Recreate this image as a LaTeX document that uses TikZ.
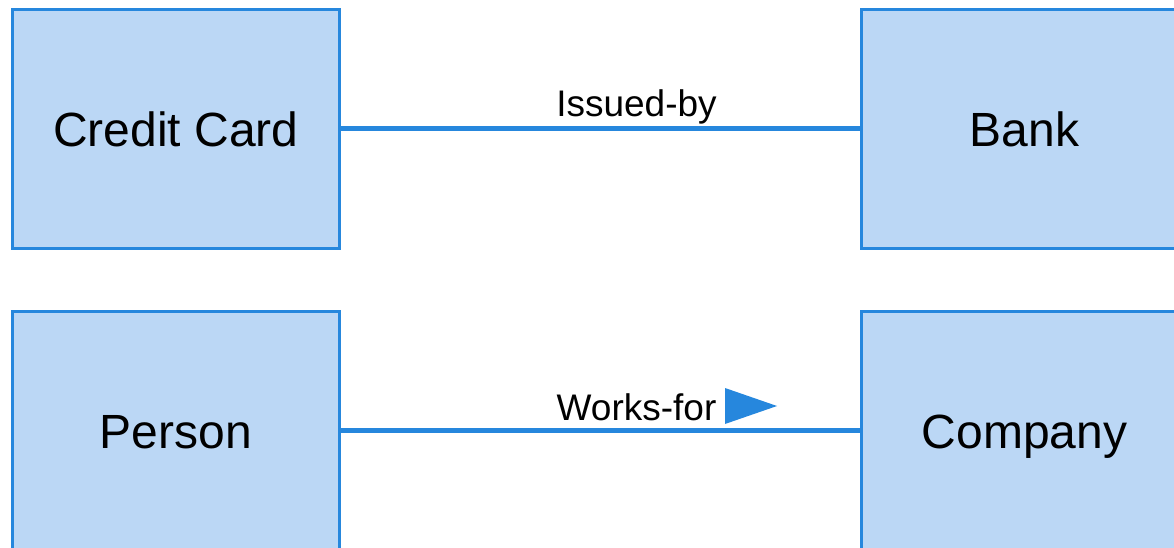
\documentclass[tikz,border=0pt]{standalone}
\usepackage{fontspec}
\setmainfont{Liberation Sans}
\definecolor{boxfill}{RGB}{187,215,245}
\definecolor{boxline}{RGB}{38,135,221}
\begin{document}
\begin{tikzpicture}[x=1pt,y=-1pt,
  entity/.style={draw=boxline,fill=boxfill,line width=3pt,rectangle,
    minimum width=327pt,minimum height=239pt,inner sep=0pt,
    font=\fontsize{48}{58}\selectfont,text height=35pt,text depth=0pt},
  rel/.style={draw=boxline,line width=5pt},
  lbl/.style={font=\fontsize{37}{44}\selectfont,inner sep=0pt,anchor=base}]
\useasboundingbox (0,0) rectangle (1174,548);
\clip (0,0) rectangle (1174,548);
\node[entity] (cc) at (176,129) {Credit Card};
\node[entity] (bank) at (1024.5,129) {Bank};
\node[entity] (person) at (176,430.5) {Person};
\node[entity] (company) at (1024.5,430.5) {Company};
\draw[rel] (cc.east) -- (bank.west);
\draw[rel] (person.east) -- (company.west);
\node[lbl] (l1) at (636.5,117) {Issued-by};
\node[lbl] (l2) at (636.5,420) {Works-for};
\fill[boxline] (725,388) -- (777,406) -- (725,424) -- cycle;
\end{tikzpicture}
\end{document}
